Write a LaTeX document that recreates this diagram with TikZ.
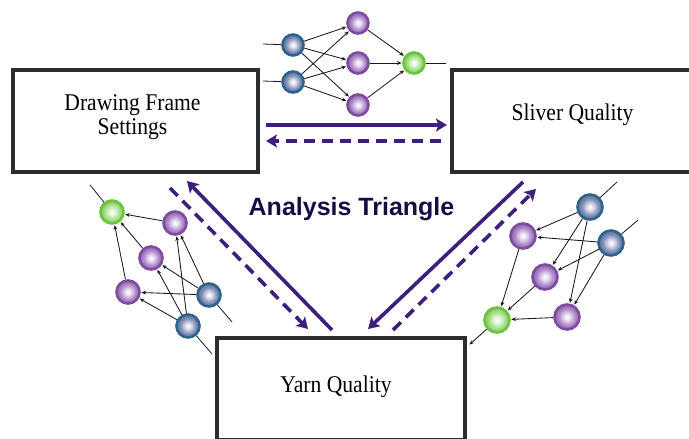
\documentclass[tikz,border=0pt]{standalone}
\usepackage{fontspec}
\setmainfont{Liberation Serif}
\newfontfamily\boxfont[FakeStretch=0.9]{Liberation Serif}
\newfontfamily\titlefont{Liberation Sans}
\usetikzlibrary{arrows.meta}

% palette
\definecolor{frameline}{HTML}{2A2E32}
\definecolor{flow}{HTML}{3E1F7D}
\definecolor{titleink}{HTML}{130F45}
\definecolor{blueRing}{HTML}{2A6590}
\definecolor{blueFill}{HTML}{7F8CB6}
\definecolor{purpleRing}{HTML}{7E4C9E}
\definecolor{purpleFill}{HTML}{AE86CC}
\definecolor{greenRing}{HTML}{68C63A}
\definecolor{greenFill}{HTML}{A2DE84}
\colorlet{blueHi}{blueFill!25!white}
\colorlet{blueEdge}{blueFill!80!black}
\colorlet{purpleHi}{purpleFill!25!white}
\colorlet{purpleEdge}{purpleFill!80!black}
\colorlet{greenHi}{greenFill!25!white}
\colorlet{greenEdge}{greenFill!85!black}

% glossy spheres for the network units
\pgfdeclareradialshading{blueball}{\pgfpoint{0bp}{0bp}}{color(0bp)=(white); color(6bp)=(blueHi); color(17bp)=(blueFill); color(25bp)=(blueEdge); color(50bp)=(blueEdge)}
\pgfdeclareradialshading{purpleball}{\pgfpoint{0bp}{0bp}}{color(0bp)=(white); color(6bp)=(purpleHi); color(17bp)=(purpleFill); color(25bp)=(purpleEdge); color(50bp)=(purpleEdge)}
\pgfdeclareradialshading{greenball}{\pgfpoint{0bp}{0bp}}{color(0bp)=(white); color(6bp)=(greenHi); color(17bp)=(greenFill); color(25bp)=(greenEdge); color(50bp)=(greenEdge)}

\tikzset{
  neuron/.style={circle, inner sep=0pt, line width=2.6pt, shade},
  nblue/.style={neuron, draw=blueRing, shading=blueball},
  npurple/.style={neuron, draw=purpleRing, shading=purpleball},
  ngreen/.style={neuron, draw=greenRing, shading=greenball},
  small/.style={minimum size=21pt},
  medium/.style={minimum size=23pt},
  large/.style={minimum size=25pt},
  link/.style={draw=black!90, line width=0.85pt, -{Stealth[length=4.5pt,width=3.8pt]}, shorten >=0.6pt},
  feed/.style={draw=black!90, line width=0.8pt},
  frame/.style={draw=frameline, line width=4pt, inner sep=0pt, fill=white},
  caption/.style={font=\boxfont\fontsize{24}{24}\selectfont, inner sep=0pt, align=center},
  flowsolid/.style={draw=flow, line width=3.6pt, -{Stealth[length=11pt,width=13pt,inset=2.5pt]}},
  flowdash/.style={flowsolid, dash pattern=on 11pt off 7pt},
}

\begin{document}
\begin{tikzpicture}[x=1pt, y=-1pt]
\useasboundingbox (0,0) rectangle (689,439);
\clip (0,0) rectangle (689,439);

% the three quality / settings boxes
\node[frame, minimum width=245pt, minimum height=102pt] (dfs) at (135.5,121) {};
\node[frame, minimum width=245pt, minimum height=102pt] (slv) at (574.5,121) {};
\node[frame, minimum width=248pt, minimum height=102pt] (yrn) at (341,389) {};

\node[caption] (dfsText) at (132.5,117.4) {Drawing Frame\\Settings};
\node[caption, anchor=base] (slvText) at (572.5,120) {Sliver Quality};
\node[caption, anchor=base] (yrnText) at (336,392) {Yarn Quality};

\node[font=\titlefont\bfseries\fontsize{25}{25}\selectfont, text=titleink, anchor=base, inner sep=0pt] (title) at (351.5,215) {Analysis Triangle};

% flow arrows between the boxes
\coordinate (tS1) at (266,125);  \coordinate (tE1) at (447,125);
\coordinate (tS2) at (441,141);  \coordinate (tE2) at (266,141);
\coordinate (lS1) at (332,330);  \coordinate (lE1) at (187,181);
\coordinate (lS2) at (170,188);  \coordinate (lE2) at (308,329);
\coordinate (rS1) at (523,182);  \coordinate (rE1) at (368,329);
\coordinate (rS2) at (393,330);  \coordinate (rE2) at (536,189);

\draw[flowsolid] (tS1) -- (tE1);
\draw[flowdash]  (tS2) -- (tE2);
\draw[flowsolid] (lS1) -- (lE1);
\draw[flowdash]  (lS2) -- (lE2);
\draw[flowsolid] (rS1) -- (rE1);
\draw[flowdash]  (rS2) -- (rE2);

% network between the upper boxes
\node[nblue, small]   (tb1) at (293,45) {};
\node[nblue, small]   (tb2) at (293,82) {};
\node[npurple, small] (tp1) at (358,23) {};
\node[npurple, small] (tp2) at (358,63) {};
\node[npurple, small] (tp3) at (358,105) {};
\node[ngreen, small]  (tg)  at (414,63) {};
\coordinate (tin1) at (263,44);
\coordinate (tin2) at (263,81);
\coordinate (tout) at (446,63);
\draw[feed] (tin1) -- (tb1);
\draw[feed] (tin2) -- (tb2);
\draw[feed] (tg) -- (tout);
\foreach \b in {tb1,tb2}
  \foreach \p in {tp1,tp2,tp3}
    \draw[link] (\b) -- (\p);
\foreach \p in {tp1,tp2,tp3}
  \draw[link] (\p) -- (tg);

% network on the left
\node[ngreen, medium]  (lg) at (112,212) {};
\node[npurple, medium] (la) at (175,223) {};
\node[npurple, medium] (lb) at (151,258) {};
\node[npurple, medium] (lc) at (128,292) {};
\node[nblue, medium]   (ld) at (209,295) {};
\node[nblue, medium]   (le) at (188,326) {};
\coordinate (lin0) at (90,185);
\coordinate (lind) at (232,322);
\coordinate (line) at (212,354);
\draw[feed] (lin0) -- (lg);
\draw[feed] (lind) -- (ld);
\draw[feed] (line) -- (le);
\foreach \b in {ld,le}
  \foreach \p in {la,lb,lc}
    \draw[link] (\b) -- (\p);
\foreach \p in {la,lb,lc}
  \draw[link] (\p) -- (lg);

% network on the right
\node[nblue, large]   (rf) at (590,207) {};
\node[nblue, large]   (rg) at (611,243) {};
\node[npurple, large] (rh) at (523,236) {};
\node[npurple, large] (ri) at (545,277) {};
\node[npurple, large] (rj) at (567,317) {};
\node[ngreen, large]  (rk) at (497,320) {};
\coordinate (rinf) at (617,182);
\coordinate (ring) at (638,220);
\coordinate (rout) at (469,345);
\draw[feed] (rinf) -- (rf);
\draw[feed] (ring) -- (rg);
\draw[link] (rk) -- (rout);
\foreach \b in {rf,rg}
  \foreach \p in {rh,ri,rj}
    \draw[link] (\b) -- (\p);
\foreach \p in {rh,ri,rj}
  \draw[link] (\p) -- (rk);
\end{tikzpicture}
\end{document}
